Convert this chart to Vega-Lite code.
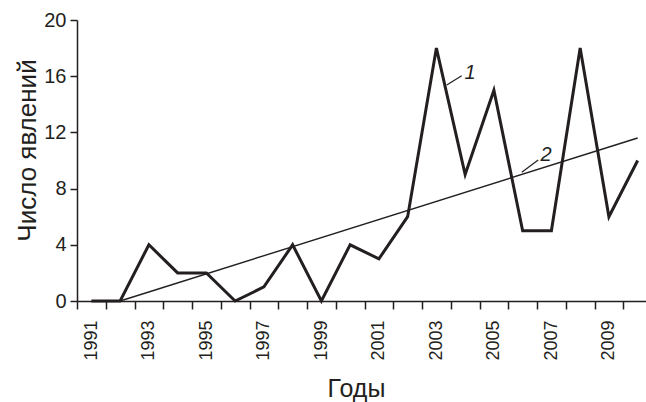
{
  "$schema": "https://vega.github.io/schema/vega-lite/v6.json",
  "width": 569,
  "height": 281,
  "autosize": {"type": "none"},
  "padding": {"left": 77, "top": 20, "right": 0, "bottom": 101},
  "background": "white",
  "config": {
    "view": {"stroke": null},
    "font": "Liberation Sans",
    "axis": {
      "domainColor": "#231f20",
      "domainWidth": 1.5,
      "tickColor": "#231f20",
      "tickWidth": 1.5,
      "labelColor": "#231f20",
      "titleColor": "#231f20",
      "titleFontWeight": "normal",
      "labelFont": "Liberation Sans",
      "titleFont": "Liberation Sans",
      "grid": false,
      "labelFlush": false,
      "labelOverlap": false,
      "labelBound": false
    }
  },
  "datasets": {
    "counts": [
      {"year": 1991, "value": 0},
      {"year": 1992, "value": 0},
      {"year": 1993, "value": 4},
      {"year": 1994, "value": 2},
      {"year": 1995, "value": 2},
      {"year": 1996, "value": 0},
      {"year": 1997, "value": 1},
      {"year": 1998, "value": 4},
      {"year": 1999, "value": 0},
      {"year": 2000, "value": 4},
      {"year": 2001, "value": 3},
      {"year": 2002, "value": 6},
      {"year": 2003, "value": 18},
      {"year": 2004, "value": 9},
      {"year": 2005, "value": 15},
      {"year": 2006, "value": 5},
      {"year": 2007, "value": 5},
      {"year": 2008, "value": 18},
      {"year": 2009, "value": 6},
      {"year": 2010, "value": 10}
    ],
    "trend": [
      {"year": 1992, "value": 0},
      {"year": 2010, "value": 11.6}
    ],
    "leaders": [
      {"year": 2003.36, "value": 15.37, "year2": 2003.88, "value2": 16.04},
      {"year": 2005.97, "value": 9.16, "year2": 2006.54, "value2": 10.04}
    ],
    "tags": [
      {"year": 2004.17, "value": 16.2, "text": "1"},
      {"year": 2006.81, "value": 10.4, "text": "2"}
    ]
  },
  "encoding": {
    "x": {
      "field": "year",
      "type": "quantitative",
      "scale": {"domain": [1990.5, 2010.29], "nice": false, "zero": false},
      "axis": {
        "values": [1990.5, 1991.5, 1992.5, 1993.5, 1994.5, 1995.5, 1996.5, 1997.5, 1998.5, 1999.5, 2000.5, 2001.5, 2002.5, 2003.5, 2004.5, 2005.5, 2006.5, 2007.5, 2008.5, 2009.5],
        "labelExpr": "(datum.value + 0.5) % 2 === 1 ? '' + (datum.value + 0.5) : ''",
        "labelAngle": -90,
        "labelAlign": "right",
        "labelBaseline": "middle",
        "labelFontSize": 18,
        "labelOffset": 14.375,
        "labelPadding": 11,
        "tickSize": 8,
        "title": "Годы",
        "titleFontSize": 25,
        "titleX": 279,
        "titleY": 95,
        "titleAlign": "center",
        "titleBaseline": "alphabetic"
      }
    },
    "y": {
      "field": "value",
      "type": "quantitative",
      "scale": {"domain": [0, 20], "nice": false},
      "axis": {
        "values": [0, 4, 8, 12, 16, 20],
        "labelFontSize": 20,
        "labelPadding": 4,
        "tickSize": 7,
        "title": "Число явлений",
        "titleFontSize": 26,
        "titleAngle": -90,
        "titleX": -42,
        "titleY": 130,
        "titleAlign": "center",
        "titleBaseline": "alphabetic"
      }
    }
  },
  "layer": [
    {
      "data": {"name": "trend"},
      "mark": {"type": "line", "color": "#231f20", "strokeWidth": 1.4}
    },
    {
      "data": {"name": "counts"},
      "mark": {"type": "line", "color": "#231f20", "strokeWidth": 3, "strokeJoin": "miter"}
    },
    {
      "data": {"name": "leaders"},
      "mark": {"type": "rule", "color": "#231f20", "strokeWidth": 1.2},
      "encoding": {
        "x2": {"field": "year2"},
        "y2": {"field": "value2"}
      }
    },
    {
      "data": {"name": "tags"},
      "mark": {"type": "text", "fontSize": 20, "fontStyle": "italic", "align": "center", "baseline": "middle", "color": "#231f20", "font": "Liberation Sans"},
      "encoding": {
        "text": {"field": "text"}
      }
    }
  ]
}
